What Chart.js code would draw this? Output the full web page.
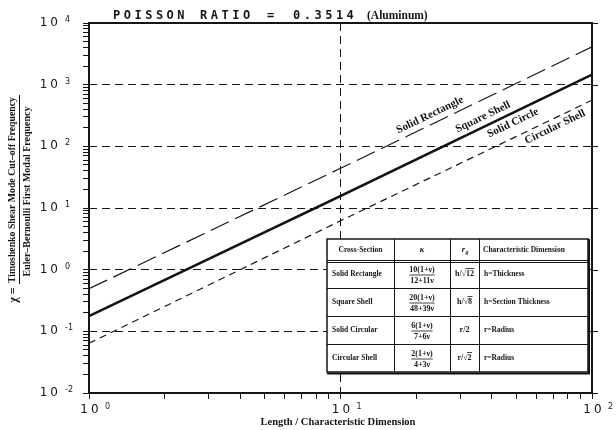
<!DOCTYPE html>
<html>
<head>
<meta charset="utf-8">
<script src="https://cdn.jsdelivr.net/npm/chart.js@4.4.0/dist/chart.umd.min.js"></script>
<style>
  html, body { margin: 0; padding: 0; background: #fff; }
  #wrap { width: 616px; height: 430px; }
</style>
</head>
<body>
<div id="wrap"><canvas id="chart" width="616" height="430"></canvas></div>
<script>
// values (x = length / characteristic dimension)
const seriesNames = ['Solid Rectangle', 'Square Shell', 'Solid Circle', 'Circular Shell'];
const lengthRatios = [1, 10, 100];
const solidRectangle = [0.49, 44, 4100];
const squareShell = [0.175, 15.5, 1450];
const solidCircle = [0.18, 16, 1480];
const circularShell = [0.064, 6.2, 560];

const xTickValues = [1, 10, 100];
const xTickExps = ['0', '1', '2'];
const yTickValues = [0.01, 0.1, 1, 10, 100, 1000, 10000];
const yTickExps = ['-2', '-1', '0', '1', '2', '3', '4'];

const tableNames = ['Solid Rectangle', 'Square Shell', 'Solid Circular', 'Circular Shell'];
const kappaTop = ['10(1+ν)', '20(1+ν)', '6(1+ν)', '2(1+ν)'];
const kappaBottom = ['12+11ν', '48+39ν', '7+6ν', '4+3ν'];
const rgText = [['h/', '12'], ['h/', '8'], ['r/2', ''], ['r/', '2']];
const dimText = ['h=Thickness', 'h=Section Thickness', 'r=Radius', 'r=Radius'];

const INK = '#151515';

// log ticks 1..9 per decade
function logTicks(lo, hi) {
    const out = [];
    for (let e = lo; e <= hi; e++) {
        for (let m = 1; m < 10; m++) {
            if (e === hi && m > 1) break;
            out.push(m * Math.pow(10, e));
        }
    }
    return out;
}

function isDecade(v) {
    const l = Math.log10(v);
    return Math.abs(l - Math.round(l)) < 1e-9;
}

function gridColor(c, lo, hi) {
    const v = c.tick ? c.tick.value : null;
    if (v == null || !isDecade(v)) return 'rgba(0,0,0,0)';
    if (Math.abs(v - lo) / lo < 1e-9 || Math.abs(v - hi) / hi < 1e-9) return 'rgba(0,0,0,0)';
    return INK;
}

const lineStyles = [
    { dash: [20, 7], width: 1.2 },
    { dash: [], width: 2.2 },
    { dash: [], width: 1.4 },
    { dash: [7, 5], width: 1.2 }
];
const seriesValues = [solidRectangle, squareShell, solidCircle, circularShell];

// where the line names sit (data coords of the text centre)
const labelSpots = [
    { x: 22.7, y: 322 },
    { x: 36.9, y: 299 },
    { x: 48.5, y: 239 },
    { x: 71.3, y: 206 }
];

function drawRoot(ctx, pre, rad, cx, cy) {
    if (!rad) {
        ctx.textAlign = 'center';
        ctx.fillText(pre, cx, cy);
        return;
    }
    const w1 = ctx.measureText(pre).width;
    const w2 = ctx.measureText('√').width;
    const w3 = ctx.measureText(rad).width;
    let x = cx - (w1 + w2 + w3) / 2;
    ctx.textAlign = 'left';
    ctx.fillText(pre, x, cy);
    x += w1;
    ctx.fillText('√', x, cy);
    x += w2;
    ctx.fillText(rad, x, cy);
    ctx.beginPath();
    ctx.lineWidth = 0.8;
    ctx.moveTo(x - 0.5, cy - 5.5);
    ctx.lineTo(x + w3 + 0.5, cy - 5.5);
    ctx.stroke();
}

function drawTable(ctx) {
    const cols = [327, 394, 450, 479, 588];
    const rows = [239, 260, 288, 316, 344, 372];
    ctx.save();
    ctx.fillStyle = '#fff';
    ctx.fillRect(cols[0], rows[0], cols[4] - cols[0], rows[5] - rows[0]);
    ctx.strokeStyle = INK;
    ctx.lineWidth = 1;
    ctx.beginPath();
    for (let i = 1; i < 4; i++) {
        ctx.moveTo(cols[i] + 0.5, rows[0]);
        ctx.lineTo(cols[i] + 0.5, rows[5]);
    }
    for (let j = 2; j < 5; j++) {
        ctx.moveTo(cols[0], rows[j] + 0.5);
        ctx.lineTo(cols[4], rows[j] + 0.5);
    }
    ctx.moveTo(cols[0], rows[1] + 0.5);
    ctx.lineTo(cols[4], rows[1] + 0.5);
    ctx.moveTo(cols[0], rows[1] + 2.5);
    ctx.lineTo(cols[4], rows[1] + 2.5);
    ctx.stroke();
    ctx.lineWidth = 1.5;
    ctx.strokeRect(cols[0], rows[0], cols[4] - cols[0], rows[5] - rows[0]);
    ctx.lineWidth = 2;
    ctx.beginPath();
    ctx.moveTo(cols[4] + 1, rows[0]);
    ctx.lineTo(cols[4] + 1, rows[5] + 1.5);
    ctx.lineTo(cols[0], rows[5] + 1.5);
    ctx.stroke();

    ctx.fillStyle = INK;
    ctx.textBaseline = 'middle';
    const hy = (rows[0] + rows[1]) / 2 + 0.5;
    ctx.font = 'bold 7.5px "Liberation Serif"';
    ctx.textAlign = 'center';
    ctx.fillText('Cross-Section', (cols[0] + cols[1]) / 2, hy);
    ctx.font = 'italic bold 8.5px "Liberation Serif"';
    ctx.fillText('κ', (cols[1] + cols[2]) / 2, hy);
    ctx.fillText('r', (cols[2] + cols[3]) / 2 - 1, hy);
    ctx.font = 'italic bold 6px "Liberation Serif"';
    ctx.fillText('g', (cols[2] + cols[3]) / 2 + 2.5, hy + 2.5);
    ctx.font = 'bold 7.5px "Liberation Serif"';
    ctx.textAlign = 'left';
    ctx.fillText('Characteristic Dimension', cols[3] + 4, hy);

    for (let i = 0; i < tableNames.length; i++) {
        const top = rows[i + 1];
        const mid = top + 14;
        ctx.font = 'bold 7.5px "Liberation Serif"';
        ctx.textAlign = 'left';
        ctx.fillText(tableNames[i], cols[0] + 5, mid);
        ctx.fillText(dimText[i], cols[3] + 5, mid);

        const cx = (cols[1] + cols[2]) / 2;
        ctx.font = 'bold 8px "Liberation Serif"';
        ctx.textAlign = 'center';
        ctx.fillText(kappaTop[i], cx, top + 9.5);
        ctx.fillText(kappaBottom[i], cx, top + 21);
        const w = Math.max(ctx.measureText(kappaTop[i]).width, ctx.measureText(kappaBottom[i]).width);
        ctx.beginPath();
        ctx.lineWidth = 0.8;
        ctx.moveTo(cx - w / 2, top + 15);
        ctx.lineTo(cx + w / 2, top + 15);
        ctx.stroke();

        ctx.font = 'bold 8px "Liberation Serif"';
        drawRoot(ctx, rgText[i][0], rgText[i][1], (cols[2] + cols[3]) / 2, mid);
    }
    ctx.restore();
}

const decor = {
    id: 'decor',
    afterDraw(chart) {
        const ctx = chart.ctx;
        const { left, right, top, bottom } = chart.chartArea;
        const xs = chart.scales.x;
        const ys = chart.scales.y;
        ctx.save();

        // frame
        ctx.strokeStyle = INK;
        ctx.lineWidth = 2;
        ctx.strokeRect(left, top, right - left, bottom - top);

        // ticks on the right side
        ctx.lineWidth = 1;
        ctx.beginPath();
        yTickValues.forEach(v => {
            const py = Math.round(ys.getPixelForValue(v)) + 0.5;
            ctx.moveTo(right, py);
            ctx.lineTo(right + 6, py);
        });
        ctx.stroke();

        // tick labels
        ctx.fillStyle = INK;
        ctx.textBaseline = 'middle';
        yTickValues.forEach((v, i) => {
            const py = ys.getPixelForValue(v);
            ctx.font = '12px "DejaVu Sans"';
            ctx.letterSpacing = '3px';
            ctx.textAlign = 'right';
            ctx.fillText('10', 61, py);
            ctx.letterSpacing = '0px';
            ctx.font = '8px "DejaVu Sans"';
            ctx.textAlign = 'left';
            ctx.fillText(yTickExps[i], 65, py - 3);
        });
        xTickValues.forEach((v, i) => {
            const px = xs.getPixelForValue(v);
            ctx.font = '12px "DejaVu Sans"';
            ctx.letterSpacing = '3px';
            ctx.textAlign = 'center';
            ctx.fillText('10', px + 2, 410);
            ctx.letterSpacing = '0px';
            ctx.font = '8px "DejaVu Sans"';
            ctx.textAlign = 'left';
            ctx.fillText(xTickExps[i], px + 16, 407);
        });

        // title
        ctx.textBaseline = 'alphabetic';
        ctx.textAlign = 'left';
        ctx.font = 'bold 12px "DejaVu Sans Mono"';
        ctx.letterSpacing = '3.5px';
        ctx.fillText('POISSON', 113, 18.5);
        ctx.fillText('RATIO', 200, 18.5);
        ctx.fillText('=', 267, 18.5);
        ctx.fillText('0.3514', 293, 18.5);
        ctx.letterSpacing = '0px';
        ctx.font = 'bold 11.5px "Liberation Serif"';
        ctx.fillText('(Aluminum)', 367, 18.5);

        // x axis title
        ctx.textAlign = 'center';
        ctx.textBaseline = 'middle';
        ctx.font = 'bold 10.5px "Liberation Serif"';
        ctx.fillText('Length / Characteristic Dimension', 338, 422, 181);

        // y axis title (fraction, rotated)
        const rot = (txt, x, y, font, maxW) => {
            ctx.save();
            ctx.translate(x, y);
            ctx.rotate(-Math.PI / 2);
            ctx.font = font;
            ctx.textAlign = 'center';
            ctx.textBaseline = 'middle';
            ctx.fillText(txt, 0, 0, maxW);
            ctx.restore();
        };
        rot('Timoshenko Shear Mode Cut\u2013off Frequency', 12, 190, 'bold 10px "Liberation Serif"', 186);
        rot('Euler\u2013Bernoulli First Modal Frequency', 27.5, 191.5, 'bold 10px "Liberation Serif"', 177);
        ctx.lineWidth = 1;
        ctx.beginPath();
        ctx.moveTo(19.5, 95);
        ctx.lineTo(19.5, 284);
        ctx.stroke();
        rot('\u03c7 =', 14, 295, 'bold 12px "Liberation Serif"');

        // names along the lines
        chart.data.datasets.forEach((ds, i) => {
            const p1x = xs.getPixelForValue(lengthRatios[0]);
            const p1y = ys.getPixelForValue(seriesValues[i][0]);
            const p2x = xs.getPixelForValue(lengthRatios[lengthRatios.length - 1]);
            const p2y = ys.getPixelForValue(seriesValues[i][seriesValues[i].length - 1]);
            const ang = Math.atan2(p2y - p1y, p2x - p1x);
            ctx.save();
            ctx.translate(xs.getPixelForValue(labelSpots[i].x), ys.getPixelForValue(labelSpots[i].y));
            ctx.rotate(ang);
            ctx.font = 'bold 11px "Liberation Serif"';
            ctx.textAlign = 'center';
            ctx.textBaseline = 'middle';
            ctx.fillText(seriesNames[i], 0, 0);
            ctx.restore();
        });

        ctx.restore();
        drawTable(ctx);
    }
};

const xAllTicks = logTicks(0, 2);
const yAllTicks = logTicks(-2, 4);

new Chart(document.getElementById('chart'), {
    type: 'line',
    data: {
        datasets: seriesNames.map((name, i) => ({
            label: name,
            data: lengthRatios.map((x, k) => ({ x: x, y: seriesValues[i][k] })),
            borderColor: INK,
            borderWidth: lineStyles[i].width,
            borderDash: lineStyles[i].dash,
            borderCapStyle: 'butt',
            pointRadius: 0,
            fill: false,
            tension: 0
        }))
    },
    options: {
        responsive: false,
        animation: false,
        layout: { padding: { top: 23, right: 24, left: 0, bottom: 0 } },
        plugins: {
            legend: { display: false },
            tooltip: { enabled: false }
        },
        scales: {
            x: {
                type: 'logarithmic',
                min: 1,
                max: 100,
                afterBuildTicks: s => { s.ticks = xAllTicks.map(v => ({ value: v })); },
                afterFit: s => { s.height = 37; s.paddingLeft = 0; s.paddingRight = 0; },
                ticks: { display: false },
                grid: {
                    color: c => gridColor(c, 1, 100),
                    lineWidth: 1,
                    tickLength: 6,
                    tickColor: INK,
                    tickWidth: 1
                },
                border: { display: false, dash: [8, 5] }
            },
            y: {
                type: 'logarithmic',
                min: 0.01,
                max: 10000,
                afterBuildTicks: s => { s.ticks = yAllTicks.map(v => ({ value: v })); },
                afterFit: s => { s.width = 89; s.paddingTop = 0; s.paddingBottom = 0; },
                ticks: { display: false },
                grid: {
                    color: c => gridColor(c, 0.01, 10000),
                    lineWidth: 1,
                    tickLength: 6,
                    tickColor: INK,
                    tickWidth: 1
                },
                border: { display: false, dash: [8, 5] }
            }
        }
    },
    plugins: [decor]
});
</script>
</body>
</html>
